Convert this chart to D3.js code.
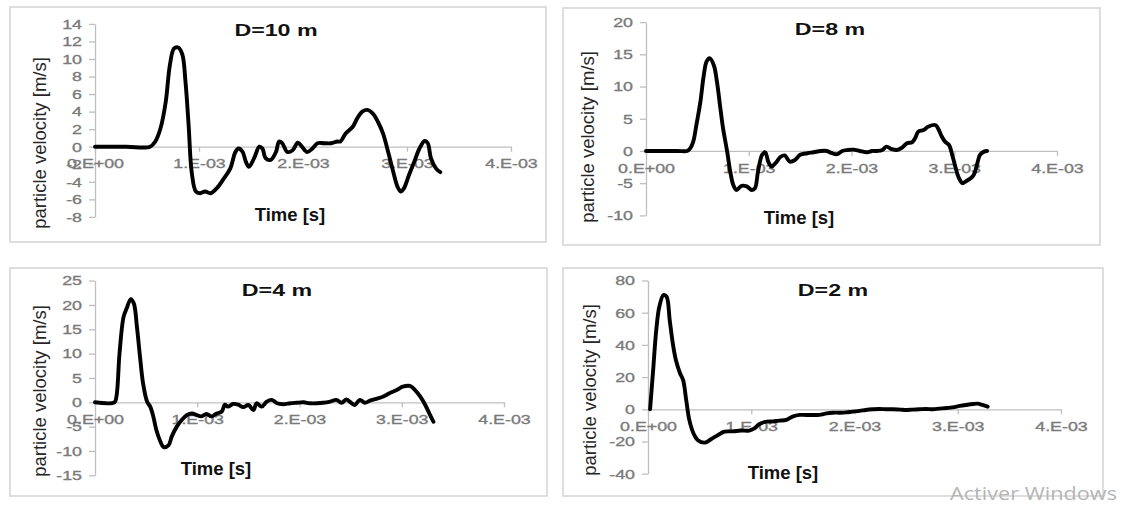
<!DOCTYPE html>
<html>
<head>
<meta charset="utf-8">
<script src="https://cdn.jsdelivr.net/npm/d3@7"></script>
<style>
  body { margin: 0; background: #fff; }
  svg { display: block; }
</style>
</head>
<body>
<div id="vis"></div>
<script>
// time in ms (axis labels show seconds), velocity in m/s
const t10 = [0, 0.30, 0.53, 0.58, 0.63, 0.68, 0.72, 0.76, 0.80, 0.84, 0.87, 0.90, 0.93, 0.97, 1.01, 1.06, 1.11, 1.17, 1.24, 1.30, 1.35, 1.38, 1.42, 1.45, 1.48, 1.53, 1.58, 1.61, 1.64, 1.69, 1.74, 1.77, 1.80, 1.85, 1.90, 1.95, 1.99, 2.04, 2.09, 2.14, 2.20, 2.27, 2.33, 2.36, 2.41, 2.48, 2.52, 2.57, 2.62, 2.67, 2.72, 2.77, 2.81, 2.86, 2.91, 2.94, 2.97, 3.02, 3.07, 3.12, 3.17, 3.20, 3.23, 3.28, 3.32];
const v10 = [0, 0, 0, 0.6, 2.1, 5.1, 9.3, 11.2, 11.3, 10.5, 7.4, 2.5, -2.9, -5.1, -5.3, -5.1, -5.3, -4.75, -3.6, -2.5, -0.6, -0.2, -0.6, -1.7, -2.3, -1.3, 0, -0.2, -1.3, -1.5, -0.6, 0.6, 0.4, -0.6, -0.4, 0.45, 0, -0.6, -0.2, 0.4, 0.4, 0.4, 0.6, 0.6, 1.5, 2.3, 3.2, 4.0, 4.2, 3.8, 2.85, 1.5, -0.2, -2.5, -4.6, -5.1, -4.75, -3.2, -1.7, -0.2, 0.65, 0.4, -1.3, -2.5, -2.9];

const t8 = [0, 0.30, 0.40, 0.43, 0.46, 0.49, 0.53, 0.56, 0.59, 0.62, 0.66, 0.69, 0.72, 0.75, 0.79, 0.82, 0.85, 0.88, 0.93, 0.98, 1.03, 1.06, 1.09, 1.13, 1.16, 1.19, 1.22, 1.26, 1.31, 1.35, 1.40, 1.45, 1.50, 1.57, 1.63, 1.70, 1.76, 1.81, 1.86, 1.91, 1.96, 2.02, 2.08, 2.15, 2.20, 2.25, 2.30, 2.34, 2.39, 2.44, 2.49, 2.54, 2.59, 2.62, 2.65, 2.70, 2.75, 2.82, 2.85, 2.88, 2.91, 2.95, 2.98, 3.01, 3.04, 3.08, 3.11, 3.16, 3.19, 3.22, 3.25, 3.29, 3.32];
const v8 = [0, 0, 0, 0.4, 1.45, 4.0, 7.7, 11.5, 13.9, 14.4, 13.3, 10.8, 7.1, 3.5, -0.1, -3.2, -5.3, -6.05, -5.4, -5.5, -6.05, -5.8, -3.2, -0.6, -0.2, -1.65, -2.4, -1.9, -0.9, -0.7, -1.65, -1.4, -0.6, -0.35, -0.2, 0, 0, -0.35, -0.5, 0, 0.15, 0.2, 0, -0.2, 0, 0, 0.15, 0.67, 0.3, 0.15, 0.5, 1.2, 1.35, 2.0, 3.0, 3.25, 3.8, 4.0, 3.25, 2.2, 1.45, 0.9, -0.6, -2.4, -4.0, -5.0, -4.75, -4.25, -3.7, -2.2, -0.6, -0.1, 0];

const t4 = [0, 0.19, 0.21, 0.24, 0.28, 0.31, 0.35, 0.38, 0.41, 0.44, 0.47, 0.51, 0.54, 0.57, 0.60, 0.64, 0.67, 0.72, 0.75, 0.80, 0.85, 0.90, 0.95, 0.99, 1.04, 1.09, 1.14, 1.19, 1.24, 1.27, 1.30, 1.35, 1.40, 1.45, 1.50, 1.55, 1.58, 1.63, 1.68, 1.73, 1.78, 1.84, 1.91, 1.97, 2.04, 2.10, 2.17, 2.23, 2.30, 2.36, 2.41, 2.46, 2.49, 2.54, 2.59, 2.64, 2.69, 2.75, 2.82, 2.88, 2.95, 3.01, 3.08, 3.13, 3.18, 3.23, 3.27, 3.31];
const v4 = [0, 0, 1.2, 10.1, 17.6, 19.3, 21.2, 20.3, 15.5, 9.4, 3.9, 0.1, -0.9, -2.9, -5.7, -8.1, -9.2, -8.8, -7.05, -5.0, -3.6, -2.6, -2.3, -2.6, -2.9, -2.4, -2.9, -2.3, -1.9, -0.5, -0.9, -0.35, -0.5, -1.0, -0.55, -1.6, -0.2, -0.9, 0.15, 0.5, -0.2, -0.4, -0.2, -0.1, 0, -0.2, -0.2, -0.1, 0.15, 0.5, -0.1, 0.6, 0.15, -0.55, 0.5, -0.1, 0.35, 0.7, 1.2, 1.85, 2.5, 3.2, 3.35, 2.5, 1.2, -0.55, -2.3, -4.0];

const t2 = [0.02, 0.05, 0.08, 0.11, 0.15, 0.18, 0.21, 0.24, 0.27, 0.31, 0.34, 0.37, 0.40, 0.44, 0.48, 0.55, 0.61, 0.68, 0.74, 0.82, 0.90, 0.98, 1.03, 1.08, 1.15, 1.21, 1.27, 1.34, 1.40, 1.47, 1.53, 1.60, 1.66, 1.73, 1.79, 1.86, 1.92, 1.98, 2.05, 2.11, 2.18, 2.24, 2.31, 2.37, 2.44, 2.50, 2.56, 2.63, 2.69, 2.76, 2.82, 2.89, 2.95, 3.02, 3.08, 3.15, 3.19, 3.24, 3.29];
const v2 = [0, 24.4, 49.3, 63.8, 71.0, 70, 55.5, 41, 30.6, 22.4, 18.2, 5.8, -6.6, -14.9, -19.0, -20.7, -18.6, -15.9, -13.9, -13.7, -13.2, -13.2, -11.8, -9.1, -7.7, -7.5, -7.0, -6.6, -4.55, -3.5, -3.5, -3.5, -3.5, -2.5, -2.1, -2.1, -1.9, -1.45, -1.0, -0.4, 0, 0.2, 0, 0, -0.2, -0.4, -0.2, 0, 0.2, 0, 0.4, 0.8, 1.2, 2.1, 2.7, 3.3, 3.5, 2.7, 1.65];

// axis ticks
const xTicks = [0, 1, 2, 3, 4];
const xTickLabels = ["0.E+00", "1.E-03", "2.E-03", "3.E-03", "4.E-03"];
const yTicks10 = [-8, -6, -4, -2, 0, 2, 4, 6, 8, 10, 12, 14];
const yTicks8 = [-10, -5, 0, 5, 10, 15, 20];
const yTicks4 = [-15, -10, -5, 0, 5, 10, 15, 20, 25];
const yTicks2 = [-40, -20, 0, 20, 40, 60, 80];

const titles = ["D=10 m", "D=8 m", "D=4 m", "D=2 m"];
const yTitle = "particle velocity [m/s]";
const xTitle = "Time [s]";

// layout of the four panels (pixels)
const panels = [
    { t: t10, v: v10, ticks: yTicks10, box: [10, 7, 536, 235], xr: [95, 511], yr: [216.9, 23.9],
      title: [276, 35.5], xt: [290, 221], yt: [46, 143] },
    { t: t8, v: v8, ticks: yTicks8, box: [563, 8, 537, 237], xr: [646, 1057], yr: [215.4, 22.1],
      title: [830, 35], xt: [799, 224], yt: [594, 137] },
    { t: t4, v: v4, ticks: yTicks4, box: [10, 268, 537, 228], xr: [95, 504], yr: [475.3, 280.6],
      title: [277, 296], xt: [216, 475], yt: [46, 391] },
    { t: t2, v: v2, ticks: yTicks2, box: [563, 268, 540, 228], xr: [648, 1061], yr: [473.7, 280.5],
      title: [833, 296], xt: [783, 479], yt: [596, 390] }
];

const AXIS_COLOR = "#bfbfbf";
const LABEL_COLOR = "#7a7a7a";

// stretch text horizontally (the source image is widened)
function widen(sel, k) {
    sel.each(function () {
        const w = this.getComputedTextLength();
        d3.select(this).attr("textLength", w * k).attr("lengthAdjust", "spacingAndGlyphs");
    });
}

const svg = d3.select("#vis").append("svg").attr("width", 1121).attr("height", 506);

panels.forEach((p, i) => {
    const g = svg.append("g");

    g.append("rect")
        .attr("x", p.box[0]).attr("y", p.box[1])
        .attr("width", p.box[2]).attr("height", p.box[3])
        .attr("fill", "none").attr("stroke", "#d6d6d6").attr("stroke-width", 1.6);

    const x = d3.scaleLinear().domain([0, 4]).range(p.xr);
    const y = d3.scaleLinear().domain(d3.extent(p.ticks)).range(p.yr);

    // y axis
    const gy = g.append("g")
        .attr("transform", `translate(${p.xr[0]},0)`)
        .call(d3.axisLeft(y).tickValues(p.ticks).tickFormat(d => String(d))
            .tickSize(6).tickSizeOuter(0).tickPadding(7));
    // x axis sits on zero
    const gx = g.append("g")
        .attr("transform", `translate(0,${y(0)})`)
        .call(d3.axisBottom(x).tickValues(xTicks).tickFormat((d, j) => xTickLabels[j])
            .tickSize(5).tickSizeOuter(0).tickPadding(7));

    [gx, gy].forEach(a => {
        a.select(".domain").attr("stroke", AXIS_COLOR).attr("stroke-width", 1.3);
        a.selectAll(".tick line").attr("stroke", AXIS_COLOR).attr("stroke-width", 1.3);
        a.selectAll(".tick text")
            .attr("fill", LABEL_COLOR)
            .attr("stroke", LABEL_COLOR).attr("stroke-width", 0.35)
            .style("font-family", "'Liberation Sans', Arial, sans-serif")
            .style("font-size", "13.5px");
        widen(a.selectAll(".tick text"), 1.32);
    });

    // the curve
    const pts = p.t.map((t, j) => [t, p.v[j]]);
    const line = d3.line()
        .x(d => x(d[0]))
        .y(d => y(d[1]))
        .curve(d3.curveCatmullRom.alpha(0.5));
    g.append("path")
        .datum(pts)
        .attr("d", line)
        .attr("fill", "none")
        .attr("stroke", "#000")
        .attr("stroke-width", 3.9)
        .attr("stroke-linejoin", "round")
        .attr("stroke-linecap", "round");

    // texts
    const ttl = g.append("text")
        .attr("x", p.title[0]).attr("y", p.title[1])
        .attr("text-anchor", "middle")
        .style("font-family", "'Liberation Sans', Arial, sans-serif")
        .style("font-weight", "bold").style("font-size", "16px")
        .attr("fill", "#111")
        .text(titles[i]);
    widen(ttl, 1.45);

    g.append("text")
        .attr("x", p.xt[0]).attr("y", p.xt[1])
        .attr("text-anchor", "middle")
        .style("font-family", "'Liberation Sans', Arial, sans-serif")
        .style("font-weight", "bold").style("font-size", "18.5px")
        .attr("fill", "#111")
        .text(xTitle);

    g.append("text")
        .attr("transform", `translate(${p.yt[0]},${p.yt[1]}) rotate(-90)`)
        .attr("text-anchor", "middle")
        .style("font-family", "'Liberation Sans', Arial, sans-serif")
        .style("font-size", "18.5px")
        .attr("fill", "#262626")
        .text(yTitle);
});

// watermark in the corner of the screenshot
svg.append("text")
    .attr("x", 950).attr("y", 500)
    .style("font-family", "'Open Sans', sans-serif")
    .style("font-size", "19px")
    .attr("fill", "#b5b5b5")
    .attr("textLength", 167).attr("lengthAdjust", "spacingAndGlyphs")
    .text("Activer Windows");
</script>
</body>
</html>
